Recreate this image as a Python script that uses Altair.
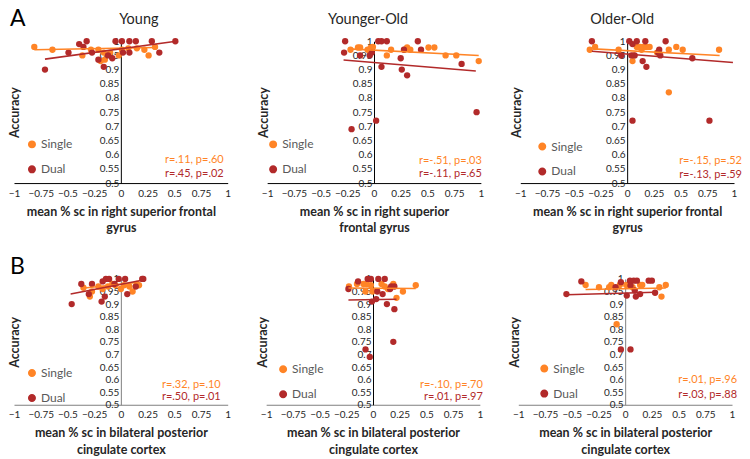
import altair as alt
import pandas as pd

ORANGE = "#FF8426"
RED = "#B22A2A"
GROUPS = ["Single", "Dual"]
FONT = "Lato"

x_ticks = [-1, -0.75, -0.5, -0.25, 0, 0.25, 0.5, 0.75, 1]
y_ticks = [0.5, 0.55, 0.6, 0.65, 0.7, 0.75, 0.8, 0.85, 0.9, 0.95, 1]

# ---------------- Row A : right superior frontal gyrus ----------------
a1_single_x = [-0.81, -0.64, -0.36, -0.28, -0.21, -0.19, -0.16, -0.15, -0.10, -0.02, 0.01, 0.07, 0.15, 0.22, 0.26, 0.32]
a1_single_y = [0.98, 0.97, 0.95, 0.97, 0.97, 0.93, 0.96, 0.935, 0.96, 0.95, 0.97, 0.975, 0.975, 0.97, 0.95, 0.98]
a1_dual_x = [-0.71, -0.49, -0.39, -0.35, -0.32, -0.27, -0.21, -0.16, -0.12, -0.08, -0.05, 0.01, 0.02, 0.08, 0.08, 0.14, 0.29, 0.36, 0.51]
a1_dual_y = [0.90, 0.96, 0.99, 0.98, 1.0, 0.96, 0.935, 0.91, 0.95, 0.94, 1.0, 1.0, 0.96, 1.0, 0.96, 1.0, 1.0, 0.96, 1.0]
a1_fit_single = ([-0.81, 0.32], [0.970, 0.978])
a1_fit_dual = ([-0.71, 0.50], [0.937, 0.999])

a2_single_x = [-0.22, -0.15, -0.13, -0.06, -0.03, -0.01, 0.12, 0.16, 0.285, 0.31, 0.34, 0.51, 0.565, 0.67, 0.77, 0.98]
a2_single_y = [0.97, 0.978, 0.978, 0.97, 0.978, 0.98, 0.95, 0.97, 0.97, 0.978, 0.97, 0.978, 0.978, 0.95, 0.95, 0.93]
a2_dual_x = [-0.28, -0.27, -0.21, -0.13, -0.04, -0.02, 0.02, 0.04, 0.07, 0.07, 0.12, 0.25, 0.26, 0.28, 0.31, 0.41, 0.44, 0.82, 0.96]
a2_dual_y = [0.96, 1.0, 0.69, 0.95, 0.95, 0.96, 0.72, 1.0, 1.0, 0.91, 1.0, 0.94, 0.90, 0.97, 0.88, 1.0, 0.97, 0.92, 0.75]
a2_fit_single = ([-0.234, 0.98], [0.973, 0.950])
a2_fit_dual = ([-0.285, 0.953], [0.934, 0.895])

a3_single_x = [-0.35, -0.30, -0.08, 0.05, 0.06, 0.09, 0.12, 0.135, 0.15, 0.18, 0.21, 0.28, 0.39, 0.39, 0.46, 0.52, 0.86]
a3_single_y = [0.97, 0.98, 0.97, 0.93, 0.95, 0.98, 0.98, 0.97, 0.98, 0.98, 0.98, 0.96, 0.97, 0.82, 0.98, 0.97, 0.97]
a3_dual_x = [-0.33, -0.055, 0.02, 0.04, 0.05, 0.05, 0.07, 0.09, 0.145, 0.17, 0.18, 0.29, 0.30, 0.31, 0.36, 0.61, 0.77]
a3_dual_y = [1.0, 0.95, 1.0, 0.95, 0.99, 0.72, 0.95, 1.0, 0.93, 1.0, 0.91, 0.96, 0.97, 0.95, 1.0, 0.94, 0.72]
a3_fit_single = ([-0.32, 0.865], [0.973, 0.950])
a3_fit_dual = ([-0.33, 0.99], [0.965, 0.925])

# ---------------- Row B : bilateral posterior cingulate cortex ----------------
b1_single_x = [-0.35, -0.29, -0.27, -0.21, -0.17, -0.12, -0.08, -0.05, 0.0, 0.03, 0.08, 0.11, 0.15, 0.17]
b1_single_y = [0.965, 0.93, 0.95, 0.97, 0.96, 0.97, 0.98, 0.975, 0.96, 0.975, 0.97, 0.95, 0.98, 0.975]
b1_dual_x = [-0.46, -0.37, -0.30, -0.27, -0.18, -0.15, -0.17, -0.14, -0.11, -0.06, -0.02, 0.04, 0.06, 0.14, 0.20, 0.21]
b1_dual_y = [0.90, 0.98, 0.94, 0.98, 0.91, 0.93, 0.99, 1.0, 1.0, 0.98, 1.0, 1.0, 0.94, 0.97, 1.0, 1.0]
b1_fit_single = ([-0.34, 0.17], [0.964, 0.987])
b1_fit_dual = ([-0.47, 0.21], [0.940, 0.996])

b2_single_x = [-0.225, -0.15, -0.09, -0.07, -0.06, -0.02, -0.005, 0.08, 0.11, 0.14, 0.19, 0.22, 0.28, 0.40]
b2_single_y = [0.97, 0.98, 0.98, 0.95, 0.98, 0.975, 0.95, 0.98, 0.97, 0.96, 0.98, 0.925, 0.95, 0.975]
b2_dual_x = [-0.23, -0.14, -0.07, -0.05, -0.03, -0.02, -0.01, 0.03, 0.04, 0.05, 0.09, 0.11, 0.13, 0.16, 0.17, 0.19, 0.20, 0.20]
b2_dual_y = [0.96, 0.99, 0.72, 1.0, 0.69, 1.0, 0.91, 0.92, 0.95, 1.0, 0.94, 1.0, 0.90, 0.96, 0.97, 0.75, 0.97, 0.88]
b2_fit_single = ([-0.23, 0.40], [0.964, 0.962])
b2_fit_dual = ([-0.23, 0.22], [0.916, 0.919])

b3_single_x = [-0.37, -0.245, -0.15, -0.13, -0.08, -0.05, 0.01, 0.07, 0.14, 0.16, 0.32, 0.34, 0.38]
b3_single_y = [0.976, 0.967, 0.967, 0.976, 0.82, 0.976, 0.976, 0.967, 0.976, 0.976, 0.967, 0.93, 0.976]
b3_dual_x = [-0.55, -0.41, -0.09, -0.04, -0.04, 0.015, 0.045, 0.05, 0.05, 0.08, 0.09, 0.10, 0.11, 0.14, 0.22, 0.25, 0.28]
b3_dual_y = [0.94, 0.99, 0.967, 0.987, 0.72, 0.934, 0.993, 0.974, 0.72, 0.993, 0.954, 0.93, 0.993, 0.94, 0.993, 0.993, 0.945]
b3_fit_single = ([-0.37, 0.38], [0.958, 0.964])
b3_fit_dual = ([-0.55, 0.28], [0.937, 0.947])

titles_a = ["Young", "Younger-Old", "Older-Old"]
xtitles_a = [["mean % sc in right superior frontal", "gyrus"],
             ["mean % sc in right superior", "frontal gyrus"],
             ["mean % sc in right superior frontal", "gyrus"]]
xtitles_b = [["mean % sc in bilateral  posterior", "cingulate cortex"],
             ["mean % sc in bilateral posterior", "cingulate cortex"],
             ["mean % sc in bilateral posterior", "cingulate cortex"]]
stats_single = [["r=.11, p=.60", "r=-.51, p=.03", "r=-.15, p=.52"],
                ["r=.32, p=.10", "r=-.10, p=.70", "r=.01, p=.96"]]
stats_dual = [["r=.45, p=.02", "r=-.11, p=.65", "r=-.13, p=.59"],
              ["r=.50, p=.01", "r=.01, p=.97", "r=.03, p=.88"]]
row_letters = ["A", "B"]

W = 214
H_A = 142
H_B = 126


def panel(sx, sy, dx, dy, fit_s, fit_d, xtitle, st_single, st_dual, h, leg, ann,
          dom_x, dom_y, title=None, title_dx=0, letter=None, letter_y=-33, ytitle_dx=-4):
    df = pd.DataFrame({
        "x": sx + dx,
        "y": sy + dy,
        "g": ["Single"] * len(sx) + ["Dual"] * len(dx),
    })
    fit = pd.DataFrame({
        "x": fit_s[0] + fit_d[0],
        "y": fit_s[1] + fit_d[1],
        "g": ["Single"] * 2 + ["Dual"] * 2,
    })
    xs = alt.Scale(domain=[-1, 1], nice=False, zero=False)
    ys = alt.Scale(domain=[0.5, 1], nice=False, zero=False)
    xaxis = alt.Axis(values=x_ticks, format=".2~f", labelFlush=False, labelOverlap=False,
                     grid=False, ticks=False, domainColor=dom_x, domainWidth=1,
                     title=xtitle, labelPadding=5, titlePadding=7, titleFontWeight="bold",
                     titleFontSize=12.5, labelFontSize=10, titleLineHeight=17,
                     labelColor="#262626", titleColor="#262626")
    yaxis = alt.Axis(values=y_ticks, format=".2~f", labelOverlap=False, grid=False,
                     ticks=False, domainColor=dom_y, domainWidth=1, offset=-W / 2,
                     title="Accuracy", titleX=-W / 2 + ytitle_dx, titleY=h / 2, titleAngle=-90,
                     titleAlign="center", titleBaseline="middle", titleFontWeight="bold",
                     titleFontSize=12.5, labelFontSize=10, labelPadding=2,
                     labelColor="#262626", titleColor="#262626")
    pts = alt.Chart(df).mark_circle(size=40, opacity=1).encode(
        x=alt.X("x:Q", scale=xs, axis=xaxis),
        y=alt.Y("y:Q", scale=ys, axis=yaxis),
        color=alt.Color("g:N", scale=alt.Scale(domain=GROUPS, range=[ORANGE, RED]),
                        legend=alt.Legend(title=None, orient="none", legendX=leg[0],
                                          legendY=leg[1] * h, symbolType="circle",
                                          symbolSize=42, labelFontSize=12,
                                          labelColor="#595959", rowPadding=11,
                                          labelOffset=3, padding=0)),
    )
    lines = alt.Chart(fit).mark_line(strokeWidth=1.6).encode(
        x=alt.X("x:Q", scale=xs, axis=xaxis),
        y=alt.Y("y:Q", scale=ys, axis=yaxis),
        stroke=alt.Stroke("g:N", scale=alt.Scale(domain=GROUPS, range=[ORANGE, RED]), legend=None),
    )
    t1 = alt.Chart(pd.DataFrame({"t": [st_single]})).mark_text(
        align="right", baseline="middle", fontSize=11, color=ORANGE).encode(
        text="t:N", x=alt.value(W + ann[0]), y=alt.value(ann[1] * h))
    t2 = alt.Chart(pd.DataFrame({"t": [st_dual]})).mark_text(
        align="right", baseline="middle", fontSize=11, color=RED).encode(
        text="t:N", x=alt.value(W + ann[0]), y=alt.value(ann[2] * h))
    layers = [pts, lines, t1, t2]
    if title is not None:
        layers.append(alt.Chart(pd.DataFrame({"t": [title]})).mark_text(
            align="center", baseline="middle", fontSize=14.5, color="#262626").encode(
            text="t:N", x=alt.value(W / 2 + title_dx), y=alt.value(-21)))
    if letter is not None:
        layers.append(alt.Chart(pd.DataFrame({"t": [letter]})).mark_text(
            align="left", baseline="top", fontSize=23, color="#000000").encode(
            text="t:N", x=alt.value(-4), y=alt.value(letter_y)))
    return alt.layer(*layers).properties(width=W, height=h)


a1 = panel(a1_single_x, a1_single_y, a1_dual_x, a1_dual_y, a1_fit_single, a1_fit_dual,
           xtitles_a[0], stats_single[0][0], stats_dual[0][0], H_A,
           (12, 0.685), (-4, 0.84, 0.935), "#000000", "#000000",
           title=titles_a[0], title_dx=18, letter=row_letters[0], letter_y=-33, ytitle_dx=0.5)
a2 = panel(a2_single_x, a2_single_y, a2_dual_x, a2_dual_y, a2_fit_single, a2_fit_dual,
           xtitles_a[1], stats_single[0][1], stats_dual[0][1], H_A,
           (0, 0.685), (1, 0.845, 0.935), "#000000", "#000000",
           title=titles_a[1], title_dx=-6)
a3 = panel(a3_single_x, a3_single_y, a3_dual_x, a3_dual_y, a3_fit_single, a3_fit_dual,
           xtitles_a[2], stats_single[0][2], stats_dual[0][2], H_A,
           (16, 0.70), (8, 0.845, 0.945), "#000000", "#000000",
           title=titles_a[2], title_dx=-5)
b1 = panel(b1_single_x, b1_single_y, b1_dual_x, b1_dual_y, b1_fit_single, b1_fit_dual,
           xtitles_b[0], stats_single[1][0], stats_dual[1][0], H_B,
           (12, 0.70), (-7, 0.842, 0.94), "#7f7f7f", "#7f7f7f",
           letter=row_letters[1], letter_y=-23, ytitle_dx=0.5)
b2 = panel(b2_single_x, b2_single_y, b2_dual_x, b2_dual_y, b2_fit_single, b2_fit_dual,
           xtitles_b[1], stats_single[1][1], stats_dual[1][1], H_B,
           (11, 0.67), (3, 0.84, 0.94), "#7f7f7f", "#000000")
b3 = panel(b3_single_x, b3_single_y, b3_dual_x, b3_dual_y, b3_fit_single, b3_fit_dual,
           xtitles_b[2], stats_single[1][2], stats_dual[1][2], H_B,
           (20, 0.665), (5, 0.80, 0.92), "#7f7f7f", "#7f7f7f")

row_a = alt.hconcat(a1, a2, a3, spacing=25.5).resolve_scale(
    color="independent", stroke="independent").resolve_legend(color="independent")
row_b = alt.hconcat(b1, b2, b3, spacing=25.5).resolve_scale(
    color="independent", stroke="independent").resolve_legend(color="independent")

chart = alt.vconcat(row_a, row_b, spacing=21).resolve_scale(
    color="independent", stroke="independent").resolve_legend(color="independent").properties(
    padding=0).configure(font=FONT).configure_view(stroke=None)

chart.save("out.html", embed_options={"renderer": "svg", "actions": False})
